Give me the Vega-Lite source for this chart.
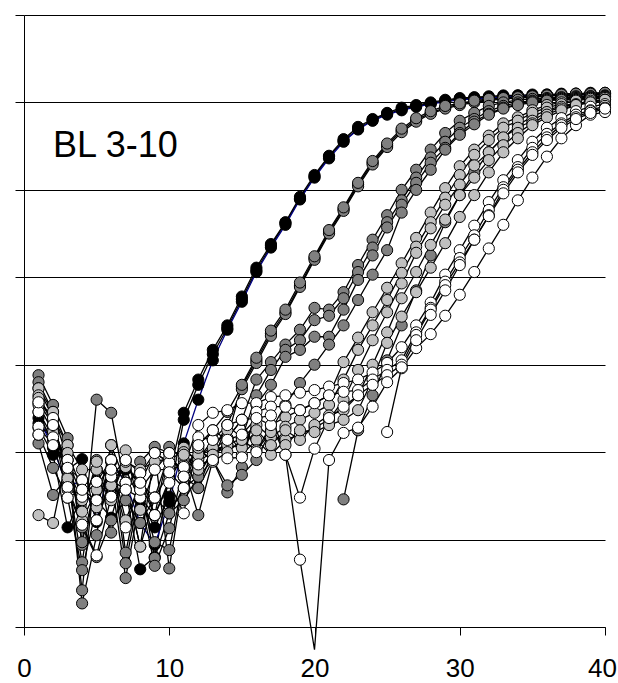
{
  "$schema": "https://vega.github.io/schema/vega-lite/v6.json",
  "width": 581,
  "height": 612,
  "autosize": {"type": "none"},
  "padding": {"left": 24, "top": 15, "right": 13, "bottom": 56},
  "config": {"view": {"stroke": null}, "font": "Liberation Sans"},
  "data": {"values": [
{"s":"A1","x":1,"y":23.3},{"s":"A1","x":2,"y":21.4},{"s":"A1","x":3,"y":18.0},{"s":"A1","x":4,"y":19.2},{"s":"A1","x":5,"y":12.0},{"s":"A1","x":6,"y":16.8},{"s":"A1","x":7,"y":15.7},{"s":"A1","x":8,"y":6.6},{"s":"A1","x":9,"y":8.0},{"s":"A1","x":10,"y":17.4},
{"s":"A1","x":11,"y":24.5},{"s":"A1","x":12,"y":28.3},{"s":"A1","x":13,"y":31.7},{"s":"A1","x":14,"y":34.5},{"s":"A1","x":15,"y":37.8},{"s":"A1","x":16,"y":41.1},{"s":"A1","x":17,"y":43.8},{"s":"A1","x":18,"y":46.3},{"s":"A1","x":19,"y":49.2},{"s":"A1","x":20,"y":51.7},
{"s":"A1","x":21,"y":53.9},{"s":"A1","x":22,"y":55.8},{"s":"A1","x":23,"y":57.2},{"s":"A1","x":24,"y":58.1},{"s":"A1","x":25,"y":58.8},{"s":"A1","x":26,"y":59.4},{"s":"A1","x":27,"y":59.7},{"s":"A1","x":28,"y":60.0},{"s":"A1","x":29,"y":60.3},{"s":"A1","x":30,"y":60.5},
{"s":"A1","x":31,"y":60.6},{"s":"A1","x":32,"y":60.7},{"s":"A1","x":33,"y":60.8},{"s":"A1","x":34,"y":60.8},{"s":"A1","x":35,"y":60.9},{"s":"A1","x":36,"y":60.9},{"s":"A1","x":37,"y":61.0},{"s":"A1","x":38,"y":61.0},{"s":"A1","x":39,"y":61.1},{"s":"A1","x":40,"y":61.1},
{"s":"A2","x":1,"y":22.8},{"s":"A2","x":2,"y":19.7},{"s":"A2","x":3,"y":11.4},{"s":"A2","x":4,"y":14.9},{"s":"A2","x":5,"y":14.5},{"s":"A2","x":6,"y":12.5},{"s":"A2","x":7,"y":18.0},{"s":"A2","x":8,"y":14.5},{"s":"A2","x":9,"y":11.4},{"s":"A2","x":10,"y":14.9},
{"s":"A2","x":11,"y":23.7},{"s":"A2","x":12,"y":27.7},{"s":"A2","x":13,"y":31.2},{"s":"A2","x":14,"y":34.2},{"s":"A2","x":15,"y":37.5},{"s":"A2","x":16,"y":40.8},{"s":"A2","x":17,"y":43.6},{"s":"A2","x":18,"y":46.2},{"s":"A2","x":19,"y":49.0},{"s":"A2","x":20,"y":51.5},
{"s":"A2","x":21,"y":53.8},{"s":"A2","x":22,"y":55.6},{"s":"A2","x":23,"y":57.0},{"s":"A2","x":24,"y":58.0},{"s":"A2","x":25,"y":58.7},{"s":"A2","x":26,"y":59.2},{"s":"A2","x":27,"y":59.6},{"s":"A2","x":28,"y":59.9},{"s":"A2","x":29,"y":60.2},{"s":"A2","x":30,"y":60.4},
{"s":"A2","x":31,"y":60.5},{"s":"A2","x":32,"y":60.6},{"s":"A2","x":33,"y":60.7},{"s":"A2","x":34,"y":60.8},{"s":"A2","x":35,"y":60.8},{"s":"A2","x":36,"y":60.9},{"s":"A2","x":37,"y":60.9},{"s":"A2","x":38,"y":61.0},{"s":"A2","x":39,"y":61.0},{"s":"A2","x":40,"y":61.0},
{"s":"A3","x":1,"y":23.9},{"s":"A3","x":2,"y":20.5},{"s":"A3","x":3,"y":16.0},{"s":"A3","x":4,"y":16.8},{"s":"A3","x":5,"y":12.2},{"s":"A3","x":6,"y":18.9},{"s":"A3","x":7,"y":16.5},{"s":"A3","x":8,"y":11.9},{"s":"A3","x":9,"y":9.4},{"s":"A3","x":10,"y":14.3},
{"s":"A3","x":11,"y":21.0},{"s":"A3","x":12,"y":26.0},{"s":"A3","x":13,"y":30.5},{"s":"A3","x":14,"y":34.0},{"s":"A3","x":15,"y":37.2},{"s":"A3","x":16,"y":40.6},{"s":"A3","x":17,"y":43.4},{"s":"A3","x":18,"y":46.0},{"s":"A3","x":19,"y":48.9},{"s":"A3","x":20,"y":51.4},
{"s":"A3","x":21,"y":53.6},{"s":"A3","x":22,"y":55.5},{"s":"A3","x":23,"y":56.9},{"s":"A3","x":24,"y":57.9},{"s":"A3","x":25,"y":58.6},{"s":"A3","x":26,"y":59.1},{"s":"A3","x":27,"y":59.5},{"s":"A3","x":28,"y":59.8},{"s":"A3","x":29,"y":60.1},{"s":"A3","x":30,"y":60.3},
{"s":"A3","x":31,"y":60.4},{"s":"A3","x":32,"y":60.5},{"s":"A3","x":33,"y":60.6},{"s":"A3","x":34,"y":60.7},{"s":"A3","x":35,"y":60.7},{"s":"A3","x":36,"y":60.8},{"s":"A3","x":37,"y":60.8},{"s":"A3","x":38,"y":60.9},{"s":"A3","x":39,"y":60.9},{"s":"A3","x":40,"y":61.0},
{"s":"B1","x":1,"y":28.8},{"s":"B1","x":2,"y":25.4},{"s":"B1","x":3,"y":21.6},{"s":"B1","x":4,"y":9.4},{"s":"B1","x":5,"y":26.0},{"s":"B1","x":6,"y":24.5},{"s":"B1","x":7,"y":15.7},{"s":"B1","x":8,"y":18.9},{"s":"B1","x":9,"y":20.6},{"s":"B1","x":10,"y":19.9},
{"s":"B1","x":11,"y":17.2},{"s":"B1","x":12,"y":20.8},{"s":"B1","x":13,"y":22.5},{"s":"B1","x":14,"y":24.6},{"s":"B1","x":15,"y":27.5},{"s":"B1","x":16,"y":30.5},{"s":"B1","x":17,"y":33.6},{"s":"B1","x":18,"y":36.0},{"s":"B1","x":19,"y":39.1},{"s":"B1","x":20,"y":42.2},
{"s":"B1","x":21,"y":45.2},{"s":"B1","x":22,"y":47.8},{"s":"B1","x":23,"y":50.6},{"s":"B1","x":24,"y":53.1},{"s":"B1","x":25,"y":55.1},{"s":"B1","x":26,"y":56.8},{"s":"B1","x":27,"y":58.0},{"s":"B1","x":28,"y":58.8},{"s":"B1","x":29,"y":59.4},{"s":"B1","x":30,"y":59.8},
{"s":"B1","x":31,"y":60.1},{"s":"B1","x":32,"y":60.3},{"s":"B1","x":33,"y":60.5},{"s":"B1","x":34,"y":60.6},{"s":"B1","x":35,"y":60.7},{"s":"B1","x":36,"y":60.8},{"s":"B1","x":37,"y":60.9},{"s":"B1","x":38,"y":60.9},{"s":"B1","x":39,"y":61.0},{"s":"B1","x":40,"y":61.0},
{"s":"B2","x":1,"y":28.0},{"s":"B2","x":2,"y":24.6},{"s":"B2","x":3,"y":19.1},{"s":"B2","x":4,"y":2.7},{"s":"B2","x":5,"y":10.5},{"s":"B2","x":6,"y":20.8},{"s":"B2","x":7,"y":8.5},{"s":"B2","x":8,"y":16.5},{"s":"B2","x":9,"y":7.9},{"s":"B2","x":10,"y":13.0},
{"s":"B2","x":11,"y":15.9},{"s":"B2","x":12,"y":17.2},{"s":"B2","x":13,"y":20.2},{"s":"B2","x":14,"y":23.1},{"s":"B2","x":15,"y":27.2},{"s":"B2","x":16,"y":30.2},{"s":"B2","x":17,"y":33.3},{"s":"B2","x":18,"y":35.8},{"s":"B2","x":19,"y":38.9},{"s":"B2","x":20,"y":42.0},
{"s":"B2","x":21,"y":45.0},{"s":"B2","x":22,"y":47.6},{"s":"B2","x":23,"y":50.4},{"s":"B2","x":24,"y":52.9},{"s":"B2","x":25,"y":54.9},{"s":"B2","x":26,"y":56.6},{"s":"B2","x":27,"y":57.8},{"s":"B2","x":28,"y":58.7},{"s":"B2","x":29,"y":59.3},{"s":"B2","x":30,"y":59.7},
{"s":"B2","x":31,"y":60.0},{"s":"B2","x":32,"y":60.2},{"s":"B2","x":33,"y":60.4},{"s":"B2","x":34,"y":60.5},{"s":"B2","x":35,"y":60.6},{"s":"B2","x":36,"y":60.7},{"s":"B2","x":37,"y":60.8},{"s":"B2","x":38,"y":60.8},{"s":"B2","x":39,"y":60.9},{"s":"B2","x":40,"y":60.9},
{"s":"B3","x":1,"y":21.0},{"s":"B3","x":2,"y":15.1},{"s":"B3","x":3,"y":17.2},{"s":"B3","x":4,"y":7.4},{"s":"B3","x":5,"y":18.0},{"s":"B3","x":6,"y":17.2},{"s":"B3","x":7,"y":5.6},{"s":"B3","x":8,"y":14.8},{"s":"B3","x":9,"y":7.0},{"s":"B3","x":10,"y":11.3},
{"s":"B3","x":11,"y":18.3},{"s":"B3","x":12,"y":12.8},{"s":"B3","x":13,"y":19.1},{"s":"B3","x":14,"y":21.6},{"s":"B3","x":15,"y":27.7},{"s":"B3","x":16,"y":30.8},{"s":"B3","x":17,"y":33.9},{"s":"B3","x":18,"y":36.3},{"s":"B3","x":19,"y":39.4},{"s":"B3","x":20,"y":42.4},
{"s":"B3","x":21,"y":45.4},{"s":"B3","x":22,"y":48.0},{"s":"B3","x":23,"y":50.8},{"s":"B3","x":24,"y":53.3},{"s":"B3","x":25,"y":55.3},{"s":"B3","x":26,"y":57.0},{"s":"B3","x":27,"y":58.2},{"s":"B3","x":28,"y":59.0},{"s":"B3","x":29,"y":59.6},{"s":"B3","x":30,"y":59.9},
{"s":"B3","x":31,"y":60.2},{"s":"B3","x":32,"y":60.4},{"s":"B3","x":33,"y":60.5},{"s":"B3","x":34,"y":60.6},{"s":"B3","x":35,"y":60.7},{"s":"B3","x":36,"y":60.8},{"s":"B3","x":37,"y":60.9},{"s":"B3","x":38,"y":61.0},{"s":"B3","x":39,"y":61.0},{"s":"B3","x":40,"y":61.1},
{"s":"C1","x":1,"y":27.3},{"s":"C1","x":2,"y":23.9},{"s":"C1","x":3,"y":20.8},{"s":"C1","x":4,"y":9.7},{"s":"C1","x":5,"y":16.6},{"s":"C1","x":6,"y":14.9},{"s":"C1","x":7,"y":19.1},{"s":"C1","x":8,"y":17.6},{"s":"C1","x":9,"y":12.8},{"s":"C1","x":10,"y":20.6},
{"s":"C1","x":11,"y":19.1},{"s":"C1","x":12,"y":15.9},{"s":"C1","x":13,"y":19.1},{"s":"C1","x":14,"y":21.6},{"s":"C1","x":15,"y":23.7},{"s":"C1","x":16,"y":28.3},{"s":"C1","x":17,"y":30.3},{"s":"C1","x":18,"y":32.3},{"s":"C1","x":19,"y":34.0},{"s":"C1","x":20,"y":36.5},
{"s":"C1","x":21,"y":36.3},{"s":"C1","x":22,"y":38.3},{"s":"C1","x":23,"y":41.4},{"s":"C1","x":24,"y":44.3},{"s":"C1","x":25,"y":47.1},{"s":"C1","x":26,"y":50.0},{"s":"C1","x":27,"y":52.3},{"s":"C1","x":28,"y":54.6},{"s":"C1","x":29,"y":56.5},{"s":"C1","x":30,"y":57.9},
{"s":"C1","x":31,"y":58.8},{"s":"C1","x":32,"y":59.6},{"s":"C1","x":33,"y":60.0},{"s":"C1","x":34,"y":60.3},{"s":"C1","x":35,"y":60.4},{"s":"C1","x":36,"y":60.5},{"s":"C1","x":37,"y":60.6},{"s":"C1","x":38,"y":60.7},{"s":"C1","x":39,"y":60.7},{"s":"C1","x":40,"y":60.8},
{"s":"C2","x":1,"y":22.0},{"s":"C2","x":2,"y":18.2},{"s":"C2","x":3,"y":14.8},{"s":"C2","x":4,"y":6.5},{"s":"C2","x":5,"y":13.7},{"s":"C2","x":6,"y":19.1},{"s":"C2","x":7,"y":7.3},{"s":"C2","x":8,"y":15.7},{"s":"C2","x":9,"y":9.7},{"s":"C2","x":10,"y":8.8},
{"s":"C2","x":11,"y":17.2},{"s":"C2","x":12,"y":15.9},{"s":"C2","x":13,"y":20.2},{"s":"C2","x":14,"y":20.8},{"s":"C2","x":15,"y":21.6},{"s":"C2","x":16,"y":26.5},{"s":"C2","x":17,"y":29.4},{"s":"C2","x":18,"y":31.7},{"s":"C2","x":19,"y":32.8},{"s":"C2","x":20,"y":35.1},
{"s":"C2","x":21,"y":35.6},{"s":"C2","x":22,"y":37.6},{"s":"C2","x":23,"y":40.6},{"s":"C2","x":24,"y":43.4},{"s":"C2","x":25,"y":46.3},{"s":"C2","x":26,"y":48.8},{"s":"C2","x":27,"y":51.4},{"s":"C2","x":28,"y":53.7},{"s":"C2","x":29,"y":55.5},{"s":"C2","x":30,"y":57.1},
{"s":"C2","x":31,"y":58.1},{"s":"C2","x":32,"y":59.0},{"s":"C2","x":33,"y":59.6},{"s":"C2","x":34,"y":60.0},{"s":"C2","x":35,"y":60.2},{"s":"C2","x":36,"y":60.4},{"s":"C2","x":37,"y":60.5},{"s":"C2","x":38,"y":60.6},{"s":"C2","x":39,"y":60.7},{"s":"C2","x":40,"y":60.7},
{"s":"C3","x":1,"y":25.7},{"s":"C3","x":2,"y":23.1},{"s":"C3","x":3,"y":18.2},{"s":"C3","x":4,"y":4.2},{"s":"C3","x":5,"y":19.1},{"s":"C3","x":6,"y":10.8},{"s":"C3","x":7,"y":16.5},{"s":"C3","x":8,"y":9.2},{"s":"C3","x":9,"y":19.9},{"s":"C3","x":10,"y":6.7},
{"s":"C3","x":11,"y":17.2},{"s":"C3","x":12,"y":20.2},{"s":"C3","x":13,"y":19.1},{"s":"C3","x":14,"y":15.4},{"s":"C3","x":15,"y":18.3},{"s":"C3","x":16,"y":25.4},{"s":"C3","x":17,"y":27.7},{"s":"C3","x":18,"y":30.9},{"s":"C3","x":19,"y":31.7},{"s":"C3","x":20,"y":33.2},
{"s":"C3","x":21,"y":33.2},{"s":"C3","x":22,"y":36.3},{"s":"C3","x":23,"y":39.7},{"s":"C3","x":24,"y":42.5},{"s":"C3","x":25,"y":45.7},{"s":"C3","x":26,"y":48.3},{"s":"C3","x":27,"y":50.8},{"s":"C3","x":28,"y":53.1},{"s":"C3","x":29,"y":54.8},{"s":"C3","x":30,"y":56.5},
{"s":"C3","x":31,"y":57.8},{"s":"C3","x":32,"y":58.7},{"s":"C3","x":33,"y":59.4},{"s":"C3","x":34,"y":59.8},{"s":"C3","x":35,"y":60.1},{"s":"C3","x":36,"y":60.3},{"s":"C3","x":37,"y":60.4},{"s":"C3","x":38,"y":60.5},{"s":"C3","x":39,"y":60.6},{"s":"C3","x":40,"y":60.7},
{"s":"C4","x":1,"y":24.6},{"s":"C4","x":2,"y":20.8},{"s":"C4","x":3,"y":15.7},{"s":"C4","x":4,"y":11.4},{"s":"C4","x":5,"y":8.0},{"s":"C4","x":6,"y":12.2},{"s":"C4","x":7,"y":14.5},{"s":"C4","x":8,"y":11.9},{"s":"C4","x":9,"y":14.8},{"s":"C4","x":10,"y":13.0},
{"s":"C4","x":11,"y":14.5},{"s":"C4","x":12,"y":17.2},{"s":"C4","x":13,"y":19.1},{"s":"C4","x":14,"y":16.2},{"s":"C4","x":15,"y":17.4},{"s":"C4","x":16,"y":19.1},{"s":"C4","x":17,"y":22.5},{"s":"C4","x":18,"y":25.4},{"s":"C4","x":19,"y":27.9},{"s":"C4","x":20,"y":30.0},
{"s":"C4","x":21,"y":32.3},{"s":"C4","x":22,"y":34.5},{"s":"C4","x":23,"y":37.4},{"s":"C4","x":24,"y":40.3},{"s":"C4","x":25,"y":43.1},{"s":"C4","x":26,"y":47.4},{"s":"C4","x":27,"y":50.0},{"s":"C4","x":28,"y":52.3},{"s":"C4","x":29,"y":54.6},{"s":"C4","x":30,"y":56.3},
{"s":"C4","x":31,"y":57.5},{"s":"C4","x":32,"y":58.6},{"s":"C4","x":33,"y":59.3},{"s":"C4","x":34,"y":59.7},{"s":"C4","x":35,"y":60.0},{"s":"C4","x":36,"y":60.2},{"s":"C4","x":37,"y":60.3},{"s":"C4","x":38,"y":60.4},{"s":"C4","x":39,"y":60.5},{"s":"C4","x":40,"y":60.6},
{"s":"X","x":22,"y":14.6},{"s":"X","x":23,"y":22.5},{"s":"X","x":24,"y":26.5},{"s":"X","x":25,"y":30.5},{"s":"X","x":26,"y":34.5},{"s":"X","x":27,"y":38.5},{"s":"X","x":28,"y":42.5},{"s":"X","x":29,"y":46.3},{"s":"X","x":30,"y":49.4},{"s":"X","x":31,"y":52.0},
{"s":"X","x":32,"y":54.3},{"s":"X","x":33,"y":56.0},{"s":"X","x":34,"y":57.4},{"s":"X","x":35,"y":58.4},{"s":"X","x":36,"y":59.1},{"s":"X","x":37,"y":59.6},{"s":"X","x":38,"y":59.9},{"s":"X","x":39,"y":60.1},{"s":"X","x":40,"y":60.3},
{"s":"D1","x":1,"y":27.3},{"s":"D1","x":2,"y":24.6},{"s":"D1","x":3,"y":20.8},{"s":"D1","x":4,"y":18.0},{"s":"D1","x":5,"y":18.0},{"s":"D1","x":6,"y":17.2},{"s":"D1","x":7,"y":18.3},{"s":"D1","x":8,"y":16.5},{"s":"D1","x":9,"y":19.9},{"s":"D1","x":10,"y":18.8},
{"s":"D1","x":11,"y":20.5},{"s":"D1","x":12,"y":18.8},{"s":"D1","x":13,"y":20.2},{"s":"D1","x":14,"y":21.6},{"s":"D1","x":15,"y":23.7},{"s":"D1","x":16,"y":23.9},{"s":"D1","x":17,"y":23.1},{"s":"D1","x":18,"y":24.0},{"s":"D1","x":19,"y":24.8},{"s":"D1","x":20,"y":25.6},
{"s":"D1","x":21,"y":26.5},{"s":"D1","x":22,"y":30.3},{"s":"D1","x":23,"y":33.1},{"s":"D1","x":24,"y":36.0},{"s":"D1","x":25,"y":38.8},{"s":"D1","x":26,"y":41.6},{"s":"D1","x":27,"y":44.5},{"s":"D1","x":28,"y":47.4},{"s":"D1","x":29,"y":50.2},{"s":"D1","x":30,"y":52.7},
{"s":"D1","x":31,"y":54.6},{"s":"D1","x":32,"y":56.2},{"s":"D1","x":33,"y":57.6},{"s":"D1","x":34,"y":58.3},{"s":"D1","x":35,"y":59.1},{"s":"D1","x":36,"y":59.7},{"s":"D1","x":37,"y":60.0},{"s":"D1","x":38,"y":60.3},{"s":"D1","x":39,"y":60.5},{"s":"D1","x":40,"y":60.6},
{"s":"D2","x":1,"y":12.8},{"s":"D2","x":2,"y":11.9},{"s":"D2","x":3,"y":19.9},{"s":"D2","x":4,"y":15.7},{"s":"D2","x":5,"y":13.7},{"s":"D2","x":6,"y":20.8},{"s":"D2","x":7,"y":16.5},{"s":"D2","x":8,"y":9.2},{"s":"D2","x":9,"y":14.8},{"s":"D2","x":10,"y":19.9},
{"s":"D2","x":11,"y":20.0},{"s":"D2","x":12,"y":19.2},{"s":"D2","x":13,"y":21.4},{"s":"D2","x":14,"y":23.1},{"s":"D2","x":15,"y":21.6},{"s":"D2","x":16,"y":23.1},{"s":"D2","x":17,"y":21.7},{"s":"D2","x":18,"y":22.9},{"s":"D2","x":19,"y":23.7},{"s":"D2","x":20,"y":24.5},
{"s":"D2","x":21,"y":25.4},{"s":"D2","x":22,"y":28.3},{"s":"D2","x":23,"y":31.7},{"s":"D2","x":24,"y":34.5},{"s":"D2","x":25,"y":37.4},{"s":"D2","x":26,"y":40.5},{"s":"D2","x":27,"y":43.5},{"s":"D2","x":28,"y":46.3},{"s":"D2","x":29,"y":49.1},{"s":"D2","x":30,"y":51.7},
{"s":"D2","x":31,"y":54.0},{"s":"D2","x":32,"y":55.7},{"s":"D2","x":33,"y":57.1},{"s":"D2","x":34,"y":57.9},{"s":"D2","x":35,"y":58.8},{"s":"D2","x":36,"y":59.4},{"s":"D2","x":37,"y":59.8},{"s":"D2","x":38,"y":60.2},{"s":"D2","x":39,"y":60.4},{"s":"D2","x":40,"y":60.5},
{"s":"D3","x":1,"y":26.5},{"s":"D3","x":2,"y":23.1},{"s":"D3","x":3,"y":18.0},{"s":"D3","x":4,"y":14.5},{"s":"D3","x":5,"y":18.0},{"s":"D3","x":6,"y":14.5},{"s":"D3","x":7,"y":20.2},{"s":"D3","x":8,"y":13.4},{"s":"D3","x":9,"y":18.0},{"s":"D3","x":10,"y":18.0},
{"s":"D3","x":11,"y":18.5},{"s":"D3","x":12,"y":19.7},{"s":"D3","x":13,"y":20.5},{"s":"D3","x":14,"y":22.5},{"s":"D3","x":15,"y":19.7},{"s":"D3","x":16,"y":21.4},{"s":"D3","x":17,"y":19.7},{"s":"D3","x":18,"y":21.4},{"s":"D3","x":19,"y":22.0},{"s":"D3","x":20,"y":22.8},
{"s":"D3","x":21,"y":23.7},{"s":"D3","x":22,"y":26.0},{"s":"D3","x":23,"y":29.4},{"s":"D3","x":24,"y":32.8},{"s":"D3","x":25,"y":36.0},{"s":"D3","x":26,"y":39.3},{"s":"D3","x":27,"y":42.8},{"s":"D3","x":28,"y":45.6},{"s":"D3","x":29,"y":48.3},{"s":"D3","x":30,"y":50.6},
{"s":"D3","x":31,"y":52.8},{"s":"D3","x":32,"y":54.3},{"s":"D3","x":33,"y":56.0},{"s":"D3","x":34,"y":57.1},{"s":"D3","x":35,"y":57.9},{"s":"D3","x":36,"y":58.9},{"s":"D3","x":37,"y":59.5},{"s":"D3","x":38,"y":59.8},{"s":"D3","x":39,"y":60.2},{"s":"D3","x":40,"y":60.3},
{"s":"D4","x":1,"y":25.4},{"s":"D4","x":2,"y":22.3},{"s":"D4","x":3,"y":19.1},{"s":"D4","x":4,"y":12.2},{"s":"D4","x":5,"y":15.7},{"s":"D4","x":6,"y":19.1},{"s":"D4","x":7,"y":12.2},{"s":"D4","x":8,"y":16.5},{"s":"D4","x":9,"y":12.8},{"s":"D4","x":10,"y":16.8},
{"s":"D4","x":11,"y":19.7},{"s":"D4","x":12,"y":18.0},{"s":"D4","x":13,"y":19.7},{"s":"D4","x":14,"y":20.8},{"s":"D4","x":15,"y":20.5},{"s":"D4","x":16,"y":22.5},{"s":"D4","x":17,"y":20.8},{"s":"D4","x":18,"y":22.5},{"s":"D4","x":19,"y":21.4},{"s":"D4","x":20,"y":23.1},
{"s":"D4","x":21,"y":24.2},{"s":"D4","x":22,"y":24.8},{"s":"D4","x":23,"y":26.5},{"s":"D4","x":24,"y":30.0},{"s":"D4","x":25,"y":33.7},{"s":"D4","x":26,"y":37.6},{"s":"D4","x":27,"y":40.6},{"s":"D4","x":28,"y":43.7},{"s":"D4","x":29,"y":46.6},{"s":"D4","x":30,"y":49.4},
{"s":"D4","x":31,"y":51.4},{"s":"D4","x":32,"y":53.4},{"s":"D4","x":33,"y":55.1},{"s":"D4","x":34,"y":56.5},{"s":"D4","x":35,"y":57.6},{"s":"D4","x":36,"y":58.6},{"s":"D4","x":37,"y":59.3},{"s":"D4","x":38,"y":59.7},{"s":"D4","x":39,"y":60.0},{"s":"D4","x":40,"y":60.3},
{"s":"D5","x":1,"y":26.2},{"s":"D5","x":2,"y":23.7},{"s":"D5","x":3,"y":17.0},{"s":"D5","x":4,"y":13.2},{"s":"D5","x":5,"y":18.9},{"s":"D5","x":6,"y":16.2},{"s":"D5","x":7,"y":18.9},{"s":"D5","x":8,"y":18.0},{"s":"D5","x":9,"y":18.9},{"s":"D5","x":10,"y":19.3},
{"s":"D5","x":11,"y":18.0},{"s":"D5","x":12,"y":20.5},{"s":"D5","x":13,"y":18.9},{"s":"D5","x":14,"y":20.0},{"s":"D5","x":15,"y":21.4},{"s":"D5","x":16,"y":20.2},{"s":"D5","x":17,"y":22.3},{"s":"D5","x":18,"y":20.8},{"s":"D5","x":19,"y":22.5},{"s":"D5","x":20,"y":22.3},
{"s":"D5","x":21,"y":23.1},{"s":"D5","x":22,"y":23.7},{"s":"D5","x":23,"y":24.8},{"s":"D5","x":24,"y":28.3},{"s":"D5","x":25,"y":32.5},{"s":"D5","x":26,"y":35.5},{"s":"D5","x":27,"y":38.3},{"s":"D5","x":28,"y":41.1},{"s":"D5","x":29,"y":43.9},{"s":"D5","x":30,"y":46.9},
{"s":"D5","x":31,"y":49.4},{"s":"D5","x":32,"y":52.0},{"s":"D5","x":33,"y":54.3},{"s":"D5","x":34,"y":55.9},{"s":"D5","x":35,"y":57.4},{"s":"D5","x":36,"y":58.3},{"s":"D5","x":37,"y":59.1},{"s":"D5","x":38,"y":59.7},{"s":"D5","x":39,"y":60.0},{"s":"D5","x":40,"y":60.3},
{"s":"F1","x":1,"y":24.6},{"s":"F1","x":2,"y":21.7},{"s":"F1","x":3,"y":19.1},{"s":"F1","x":4,"y":14.9},{"s":"F1","x":5,"y":16.6},{"s":"F1","x":6,"y":19.1},{"s":"F1","x":7,"y":16.5},{"s":"F1","x":8,"y":17.6},{"s":"F1","x":9,"y":19.9},{"s":"F1","x":10,"y":18.8},
{"s":"F1","x":11,"y":18.3},{"s":"F1","x":12,"y":23.1},{"s":"F1","x":13,"y":24.5},{"s":"F1","x":14,"y":24.8},{"s":"F1","x":15,"y":25.6},{"s":"F1","x":16,"y":25.6},{"s":"F1","x":17,"y":26.3},{"s":"F1","x":18,"y":26.5},{"s":"F1","x":19,"y":26.8},{"s":"F1","x":20,"y":27.1},
{"s":"F1","x":21,"y":27.5},{"s":"F1","x":22,"y":27.9},{"s":"F1","x":23,"y":28.3},{"s":"F1","x":24,"y":29.1},{"s":"F1","x":25,"y":30.2},{"s":"F1","x":26,"y":32.0},{"s":"F1","x":27,"y":34.5},{"s":"F1","x":28,"y":37.1},{"s":"F1","x":29,"y":40.3},{"s":"F1","x":30,"y":43.1},
{"s":"F1","x":31,"y":45.9},{"s":"F1","x":32,"y":48.6},{"s":"F1","x":33,"y":51.1},{"s":"F1","x":34,"y":53.4},{"s":"F1","x":35,"y":55.5},{"s":"F1","x":36,"y":57.1},{"s":"F1","x":37,"y":58.2},{"s":"F1","x":38,"y":59.0},{"s":"F1","x":39,"y":59.5},{"s":"F1","x":40,"y":59.8},
{"s":"F2","x":1,"y":25.7},{"s":"F2","x":2,"y":23.9},{"s":"F2","x":3,"y":16.0},{"s":"F2","x":4,"y":11.7},{"s":"F2","x":5,"y":8.2},{"s":"F2","x":6,"y":14.9},{"s":"F2","x":7,"y":15.7},{"s":"F2","x":8,"y":14.8},{"s":"F2","x":9,"y":12.8},{"s":"F2","x":10,"y":16.5},
{"s":"F2","x":11,"y":13.0},{"s":"F2","x":12,"y":21.7},{"s":"F2","x":13,"y":21.4},{"s":"F2","x":14,"y":19.3},{"s":"F2","x":15,"y":19.4},{"s":"F2","x":16,"y":24.6},{"s":"F2","x":17,"y":25.2},{"s":"F2","x":18,"y":25.2},{"s":"F2","x":19,"y":24.8},{"s":"F2","x":20,"y":25.6},
{"s":"F2","x":21,"y":26.5},{"s":"F2","x":22,"y":26.9},{"s":"F2","x":23,"y":27.1},{"s":"F2","x":24,"y":28.3},{"s":"F2","x":25,"y":29.4},{"s":"F2","x":26,"y":30.5},{"s":"F2","x":27,"y":33.7},{"s":"F2","x":28,"y":36.5},{"s":"F2","x":29,"y":39.5},{"s":"F2","x":30,"y":42.2},
{"s":"F2","x":31,"y":44.8},{"s":"F2","x":32,"y":47.7},{"s":"F2","x":33,"y":50.3},{"s":"F2","x":34,"y":52.6},{"s":"F2","x":35,"y":54.8},{"s":"F2","x":36,"y":56.4},{"s":"F2","x":37,"y":57.6},{"s":"F2","x":38,"y":58.6},{"s":"F2","x":39,"y":59.1},{"s":"F2","x":40,"y":59.6},
{"s":"F3","x":1,"y":22.9},{"s":"F3","x":2,"y":20.8},{"s":"F3","x":3,"y":18.2},{"s":"F3","x":4,"y":16.8},{"s":"F3","x":5,"y":12.2},{"s":"F3","x":6,"y":17.2},{"s":"F3","x":7,"y":19.1},{"s":"F3","x":8,"y":15.7},{"s":"F3","x":9,"y":18.0},{"s":"F3","x":10,"y":19.9},
{"s":"F3","x":11,"y":17.2},{"s":"F3","x":12,"y":18.6},{"s":"F3","x":13,"y":19.1},{"s":"F3","x":14,"y":23.1},{"s":"F3","x":15,"y":23.7},{"s":"F3","x":16,"y":20.0},{"s":"F3","x":17,"y":23.1},{"s":"F3","x":18,"y":19.7},{"s":"F3","x":19,"y":14.8},{"s":"F3","x":20,"y":20.4},
{"s":"F3","x":21,"y":23.9},{"s":"F3","x":22,"y":25.2},{"s":"F3","x":23,"y":26.5},{"s":"F3","x":24,"y":27.7},{"s":"F3","x":25,"y":28.8},{"s":"F3","x":26,"y":30.0},{"s":"F3","x":27,"y":33.4},{"s":"F3","x":28,"y":36.3},{"s":"F3","x":29,"y":39.1},{"s":"F3","x":30,"y":41.7},
{"s":"F3","x":31,"y":44.3},{"s":"F3","x":32,"y":47.1},{"s":"F3","x":33,"y":50.0},{"s":"F3","x":34,"y":52.3},{"s":"F3","x":35,"y":54.3},{"s":"F3","x":36,"y":56.0},{"s":"F3","x":37,"y":57.4},{"s":"F3","x":38,"y":58.3},{"s":"F3","x":39,"y":59.0},{"s":"F3","x":40,"y":59.4},
{"s":"G","x":1,"y":22.0},{"s":"G","x":2,"y":23.1},{"s":"G","x":3,"y":14.8},{"s":"G","x":4,"y":15.7},{"s":"G","x":5,"y":14.5},{"s":"G","x":6,"y":18.0},{"s":"G","x":7,"y":11.4},{"s":"G","x":8,"y":16.5},{"s":"G","x":9,"y":14.8},{"s":"G","x":10,"y":17.7},
{"s":"G","x":11,"y":15.9},{"s":"G","x":12,"y":20.8},{"s":"G","x":13,"y":22.5},{"s":"G","x":14,"y":21.4},{"s":"G","x":15,"y":22.0},{"s":"G","x":16,"y":23.9},{"s":"G","x":17,"y":24.2},{"s":"G","x":18,"y":19.7},{"s":"G","x":19,"y":7.7},{"s":"G","x":20,"y":-2.6},
{"s":"G","x":21,"y":19.1},{"s":"G","x":22,"y":22.2},{"s":"G","x":23,"y":22.8},{"s":"G","x":24,"y":25.2},{"s":"G","x":25,"y":28.0},{"s":"G","x":26,"y":29.6},{"s":"G","x":27,"y":31.9},{"s":"G","x":28,"y":33.5},{"s":"G","x":29,"y":35.6},{"s":"G","x":30,"y":38.0},
{"s":"G","x":31,"y":40.6},{"s":"G","x":32,"y":43.3},{"s":"G","x":33,"y":46.0},{"s":"G","x":34,"y":48.8},{"s":"G","x":35,"y":51.4},{"s":"G","x":36,"y":53.8},{"s":"G","x":37,"y":55.9},{"s":"G","x":38,"y":57.4},{"s":"G","x":39,"y":58.6},{"s":"G","x":40,"y":58.9},
{"s":"H","x":25,"y":22.3},{"s":"H","x":26,"y":29.7},{"s":"H","x":27,"y":32.8},{"s":"H","x":28,"y":35.7},{"s":"H","x":29,"y":38.5},{"s":"H","x":30,"y":41.4},{"s":"H","x":31,"y":44.3},{"s":"H","x":32,"y":47.0},
{"s":"H","x":33,"y":49.6},{"s":"H","x":34,"y":52.0},{"s":"H","x":35,"y":54.0},{"s":"H","x":36,"y":55.7},{"s":"H","x":37,"y":57.1},{"s":"H","x":38,"y":58.1},{"s":"H","x":39,"y":58.8},{"s":"H","x":40,"y":59.3}
  ]},
  "layer": [
    {
      "mark": {"type": "line", "strokeWidth": 1.3},
      "encoding": {
        "x": {
          "field": "x", "type": "quantitative",
          "scale": {"domain": [0, 40], "nice": false},
          "axis": {
            "values": [0, 10, 20, 30, 40], "grid": false, "title": null,
            "domainColor": "#000", "tickColor": "#000", "tickSize": 8,
            "labelFontSize": 26, "labelColor": "#000", "labelPadding": 20,
            "labelFont": "Liberation Sans", "labelFlush": false, "labelOverlap": false,
            "labelOffset": {"expr": "datum.value == 40 ? -3 : 0"}
          }
        },
        "y": {
          "field": "y", "type": "quantitative",
          "scale": {"domain": [0, 70], "nice": false},
          "axis": {
            "values": [0, 10, 20, 30, 40, 50, 60, 70], "grid": true,
            "gridColor": "#000", "gridWidth": 1, "gridOpacity": 1,
            "labels": false, "title": null,
            "domainColor": "#000", "tickColor": "#000", "tickSize": 9
          }
        },
        "detail": {"field": "s"},
        "order": {"field": "x"},
        "stroke": {"condition": {"test": "datum.s === 'A3'", "value": "#000080"}, "value": "#000000"}
      }
    },
    {
      "transform": [{"filter": "datum.y >= 0"}],
      "mark": {"type": "point", "shape": "circle", "filled": true, "size": 125,
               "stroke": "#000", "strokeWidth": 1, "opacity": 1},
      "encoding": {
        "x": {"field": "x", "type": "quantitative"},
        "y": {"field": "y", "type": "quantitative"},
        "fill": {
          "field": "s", "type": "nominal", "legend": null,
          "scale": {
            "domain": ["A1","A2","A3","B1","B2","B3","C1","C2","C3","C4","X","D1","D2","D3","D4","D5","F1","F2","F3","G","H"],
            "range": ["#000000","#000000","#000000","#808080","#808080","#808080","#808080","#808080","#808080","#808080","#808080","#c0c0c0","#c0c0c0","#c0c0c0","#c0c0c0","#c0c0c0","#ffffff","#ffffff","#ffffff","#ffffff","#ffffff"]
          }
        }
      }
    },
    {
      "data": {"values": [{"label": "BL 3-10"}]},
      "mark": {"type": "text", "align": "left", "baseline": "alphabetic",
               "fontSize": 36, "font": "Liberation Sans", "color": "#000"},
      "encoding": {
        "x": {"datum": 2},
        "y": {"datum": 53.8},
        "text": {"field": "label"}
      }
    }
  ]
}
